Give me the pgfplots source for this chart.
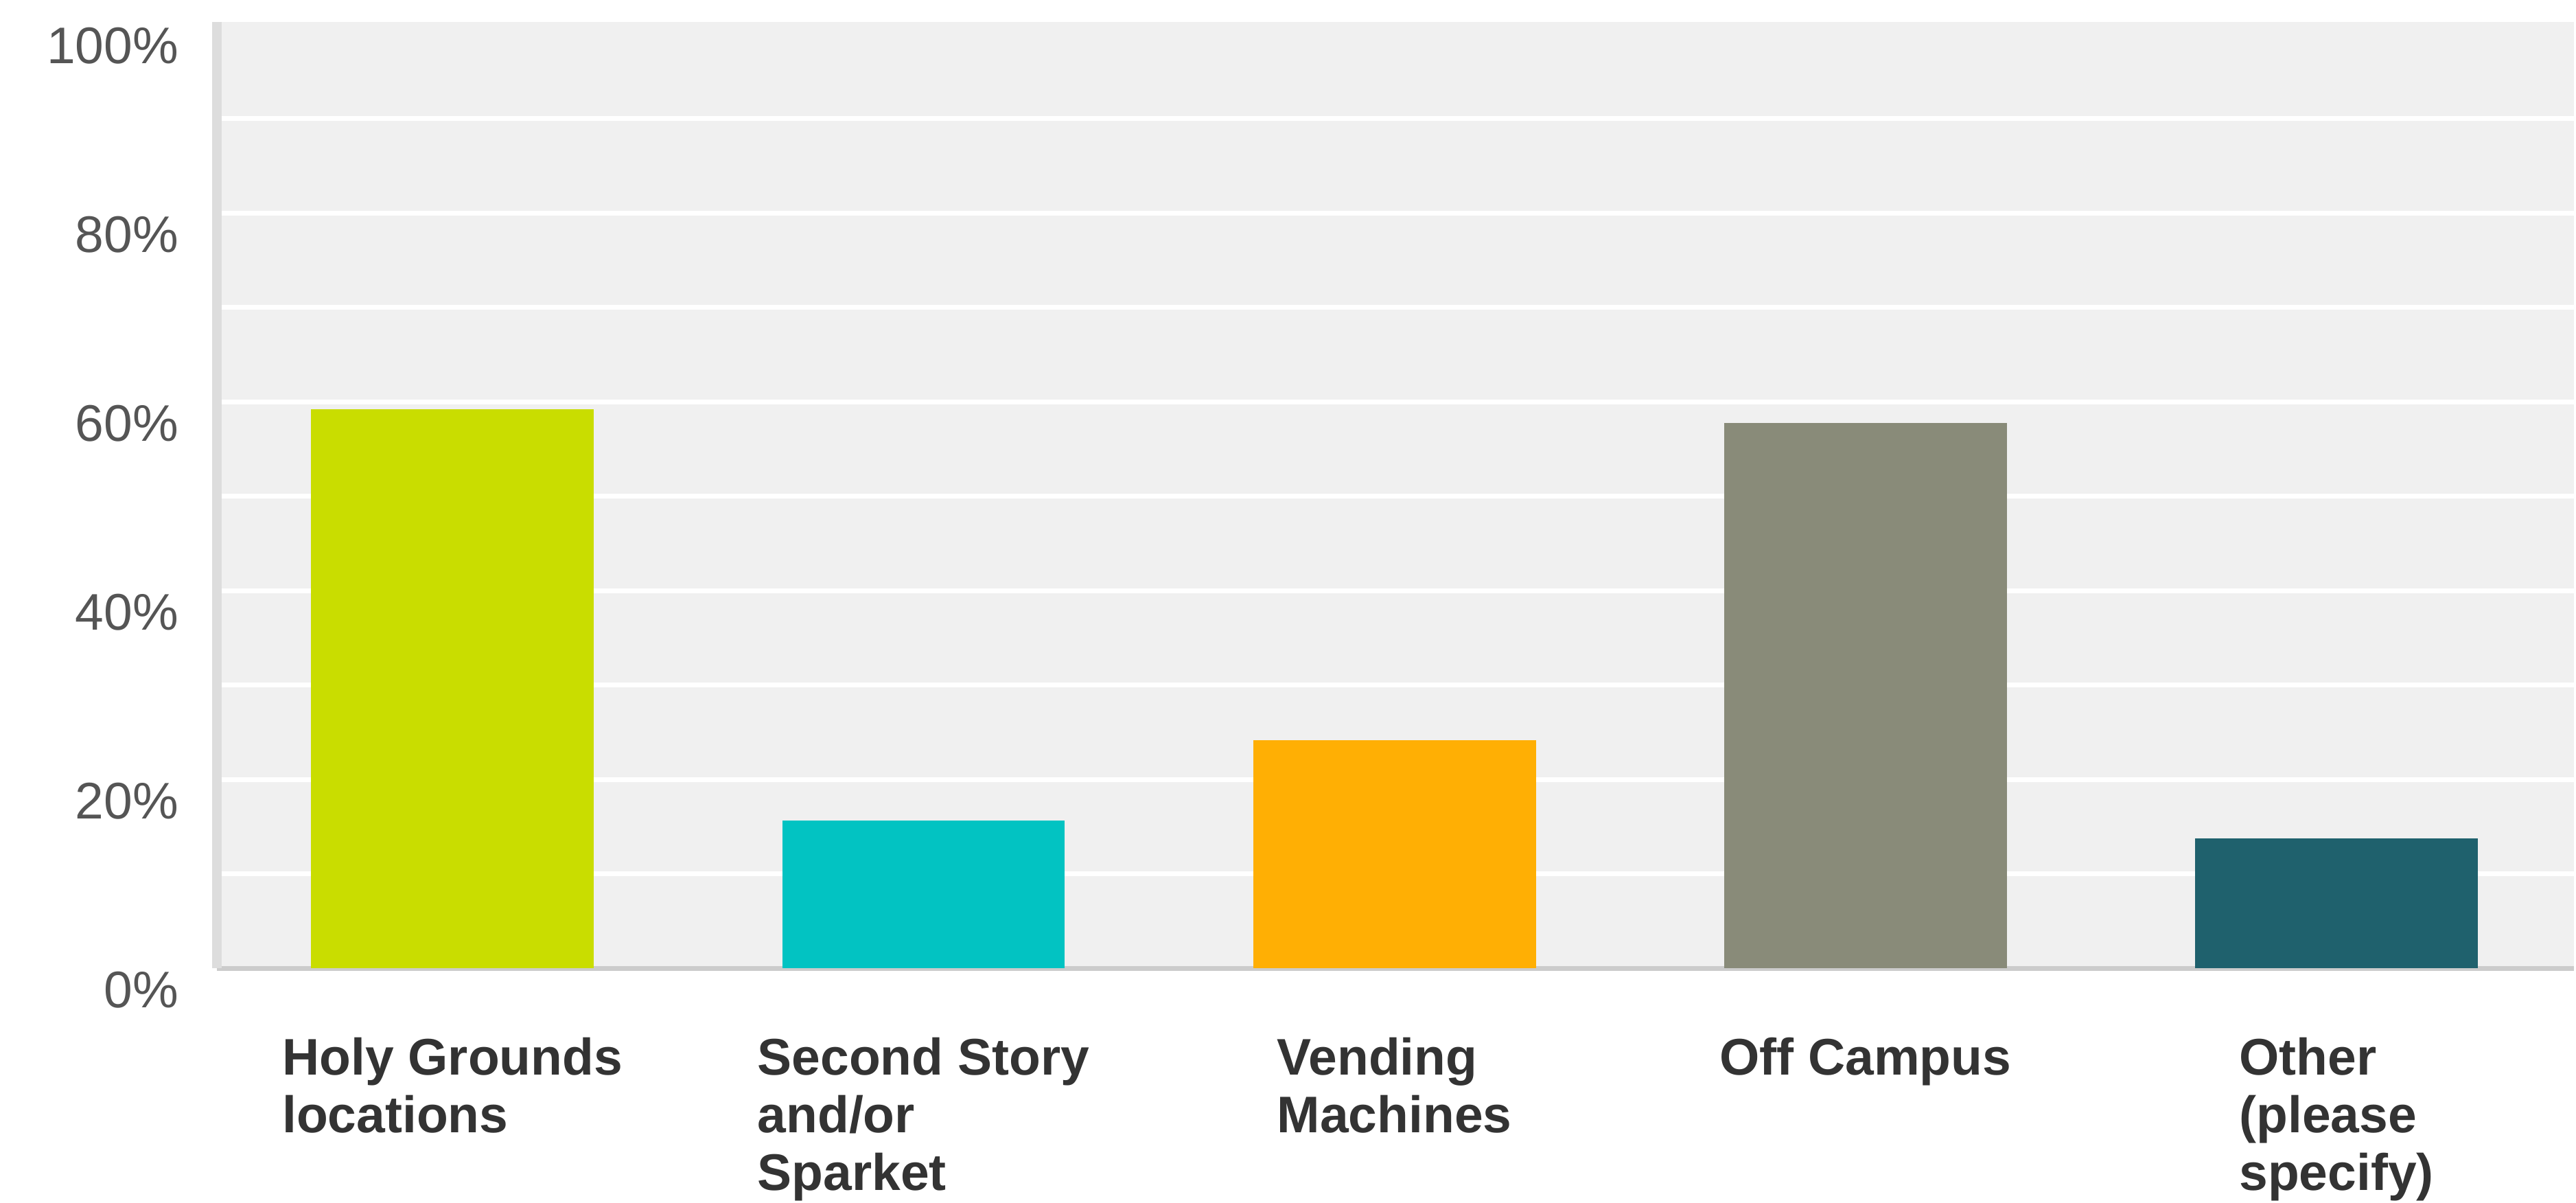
\documentclass[border=0pt]{standalone}
\usepackage{pgfplots}
\pgfplotsset{compat=1.18}
\usepackage{fontspec}
\setmainfont{Liberation Sans}
\definecolor{cLime}{HTML}{C9DD00}
\definecolor{cTeal}{HTML}{02C3C2}
\definecolor{cOrange}{HTML}{FFAF04}
\definecolor{cGray}{HTML}{898B79}
\definecolor{cDark}{HTML}{1F616D}
\definecolor{cBg}{HTML}{F0F0F0}
\definecolor{cLeft}{HTML}{DDDDDD}
\definecolor{cBottom}{HTML}{CCCCCC}
\definecolor{cYlab}{HTML}{555555}
\definecolor{cXlab}{HTML}{333333}
\pgfplotsset{layers/mylayers/.define layer set={axis background,axis grid,main,axis ticks,axis lines,axis tick labels,axis descriptions,axis foreground}{}}
\begin{document}
\begin{tikzpicture}
\begin{axis}[
  set layers=mylayers,
  at={(0pt,0pt)}, anchor=south west,
  scale only axis, width=686.8pt, height=275.68pt,
  xmin=-0.5, xmax=4.504, ymin=0, ymax=100.25,
  axis lines*=left,
  x axis line style={draw=cBottom, line width=1.4pt},
  y axis line style={draw=cLeft, line width=2.8pt},
  axis background/.style={fill=cBg},
  xtick={0,1,2,3,4},
  xticklabels={{Holy Grounds\\locations},{Second Story\\and/or\\Sparket},{Vending\\Machines},{Off Campus},{Other\\(please\\specify)}},
  ytick={0,20,40,60,80,100},
  yticklabels={0\%,20\%,40\%,60\%,80\%,100\%},
  minor ytick={10,20,30,40,50,60,70,80,90},
  yminorgrids,
  minor grid style={white, line width=1.4pt},
  tick style={draw=none},
  major tick length=0pt, minor tick length=0pt,
  yticklabel style={font=\fontsize{15}{18}\selectfont, text=cYlab, anchor=north east, inner sep=0pt, xshift=-11pt, yshift=-0.7pt},
  xticklabel style={font=\bfseries\fontsize{15}{16.8}\selectfont, text=cXlab, align=left, anchor=north, inner sep=0pt, yshift=-20pt},
]
\addplot[ybar, bar width=0.6, bar shift=0pt, fill=cLime, draw=none] coordinates {(0,59.2)};
\addplot[ybar, bar width=0.6, bar shift=0pt, fill=cTeal, draw=none] coordinates {(1,15.7)};
\addplot[ybar, bar width=0.6, bar shift=0pt, fill=cOrange, draw=none] coordinates {(2,24.2)};
\addplot[ybar, bar width=0.6, bar shift=0pt, fill=cGray, draw=none] coordinates {(3,57.8)};
\addplot[ybar, bar width=0.6, bar shift=0pt, fill=cDark, draw=none] coordinates {(4,13.75)};
\end{axis}
\pgfresetboundingbox
\path[use as bounding box] (-63.2pt,-68.32pt) rectangle (687.4pt,282.08pt);
\end{tikzpicture}
\end{document}
